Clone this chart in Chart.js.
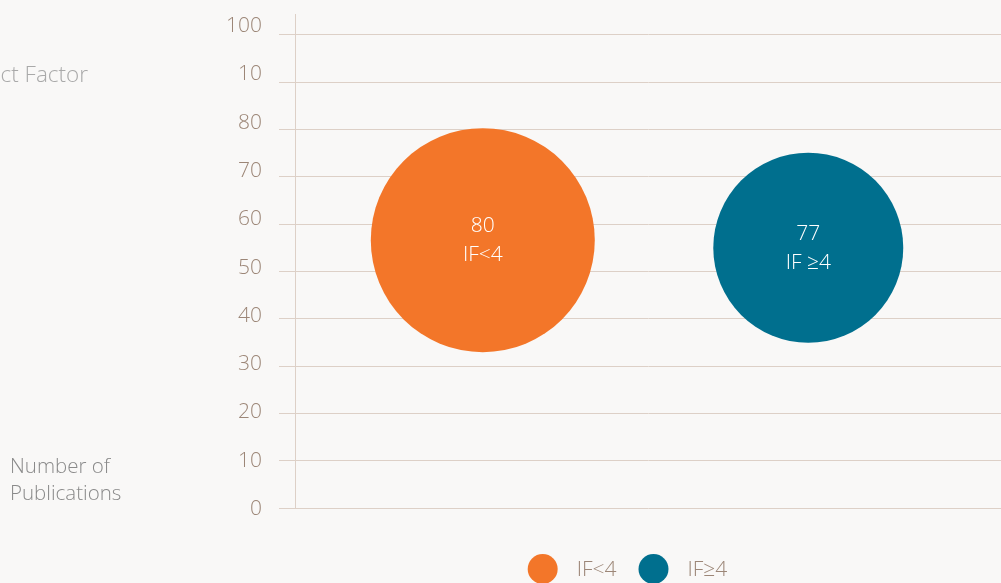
<html>
<head>
<script src="https://cdn.jsdelivr.net/npm/chart.js@4.4.1/dist/chart.umd.min.js"></script>
<style>
body { margin: 0; background: #f9f8f7; }
#wrap { position: relative; width: 1001px; height: 583px; }
</style>
</head>
<body>
<div id="wrap"><canvas id="myChart"></canvas></div>
<script>
// values
var groups = ['IF<4', 'IF≥4'];
var bubbleNames = ['IF<4', 'IF ≥4'];
var publications = [80, 77];
var xPos = [26.6, 72.7];
var yPos = [56.6, 55.0];
var radius = [112, 95];
var colors = ['#f37629', '#006f8e'];
// the original prints "10" where 90 should be
var tickLabels = ['0', '10', '20', '30', '40', '50', '60', '70', '80', '10', '100'];

var font = '"Open Sans", "Noto Sans", sans-serif';
var gridColor = '#ddd0c7';
var tickColor = '#9c8677';

function tens(scale) {
  scale.ticks = scale.ticks.filter(function(t) {
    return t.value >= 0 && t.value <= 100 && Math.abs(t.value % 10) < 1e-6;
  });
}

var datasets = groups.map(function(g, i) {
  return {
    label: g,
    data: [{ x: xPos[i], y: yPos[i], r: radius[i] }],
    backgroundColor: colors[i],
    borderWidth: 0
  };
});

var bubbleText = {
  id: 'bubbleText',
  afterDatasetsDraw: function(chart) {
    var ctx = chart.ctx;
    ctx.save();
    ctx.fillStyle = '#ffffff';
    ctx.font = '300 21px ' + font;
    ctx.textAlign = 'center';
    ctx.textBaseline = 'middle';
    chart.data.datasets.forEach(function(ds, i) {
      var pt = chart.getDatasetMeta(i).data[0];
      ctx.fillText(String(publications[i]), pt.x, pt.y - 14);
      ctx.fillText(bubbleNames[i], pt.x, pt.y + 15);
    });
    ctx.restore();
  }
};

var extras = {
  id: 'extras',
  afterDraw: function(chart) {
    var ctx = chart.ctx;
    ctx.save();
    ctx.textBaseline = 'middle';
    // left side titles
    ctx.font = '300 22.5px ' + font;
    ctx.fillStyle = '#a9a9a9';
    ctx.textAlign = 'right';
    ctx.fillText('Impact Factor', 88, 76);
    ctx.fillStyle = '#8a8a8a';
    ctx.textAlign = 'left';
    ctx.font = '300 20.5px ' + font;
    ctx.fillText('Number of', 10, 467);
    ctx.fillText('Publications', 10, 494);
    // legend
    ctx.font = '300 21px ' + font;
    var widths = groups.map(function(g) { return ctx.measureText(g).width; });
    var total = 0;
    widths.forEach(function(w, i) { total += 49 + w + (i < widths.length - 1 ? 21 : 0); });
    var x = 627 - total / 2;
    groups.forEach(function(g, i) {
      ctx.fillStyle = colors[i];
      ctx.beginPath();
      ctx.arc(x + 15, 569, 15, 0, Math.PI * 2);
      ctx.fill();
      ctx.fillStyle = tickColor;
      ctx.fillText(g, x + 49, 570);
      x += 49 + widths[i] + 22;
    });
    ctx.restore();
  }
};

var ctx = document.getElementById('myChart').getContext('2d');
var myChart = new Chart(ctx, {
  type: 'bubble',
  data: { datasets: datasets },
  options: {
    responsive: true,
    maintainAspectRatio: false,
    animation: false,
    events: [],
    layout: { autoPadding: false, padding: { top: 14, bottom: 75, left: 0, right: 0 } },
    plugins: { legend: { display: false }, tooltip: { enabled: false } },
    scales: {
      x: { display: false, min: 0, max: 100 },
      y: {
        position: 'left',
        weight: 0,
        min: 0,
        max: 104.4,
        afterBuildTicks: tens,
        afterFit: function(s) { s.width = 16; s.paddingTop = 0; s.paddingBottom = 0; },
        ticks: { display: false, autoSkip: false, stepSize: 10, includeBounds: false },
        grid: { color: gridColor, tickLength: 16, drawTicks: true, tickColor: gridColor },
        border: { display: true, color: gridColor }
      },
      yl: {
        position: 'left',
        weight: 1,
        min: -0.2,
        max: 102.07,
        afterBuildTicks: tens,
        afterFit: function(s) { s.width = 279; s.paddingTop = 0; s.paddingBottom = 0; },
        grid: { display: false, drawTicks: false },
        border: { display: false },
        ticks: {
          autoSkip: false,
          stepSize: 10,
          includeBounds: false,
          padding: 17,
          labelOffset: 2,
          color: tickColor,
          font: { family: font, size: 21, weight: 300 },
          callback: function(v) { return tickLabels[Math.round(v / 10)]; }
        }
      }
    }
  },
  plugins: [bubbleText, extras]
});
</script>
</body>
</html>
